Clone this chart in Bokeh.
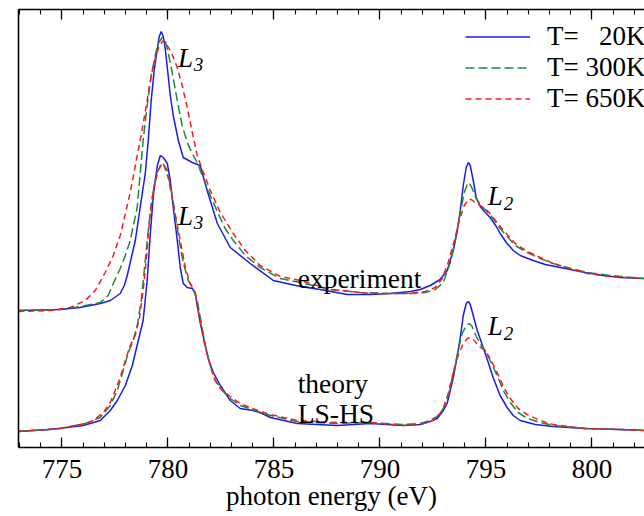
from bokeh.plotting import figure
from bokeh.models import (Range1d, LinearAxis, SingleIntervalTicker, FixedTicker, Label, Legend,
                          LegendItem, CustomJSTickFormatter)
from bokeh.embed import file_html
from bokeh.resources import INLINE

# ---------------- data (photon energy in eV, intensity in arb. units) -------------
exp_20_E = [772.94, 774.92, 775.86, 776.81, 777.28, 777.75, 777.94, 778.08, 778.22, 778.46,
            778.69, 778.93, 779.07, 779.21, 779.35, 779.50, 779.59, 779.68,
            779.78, 779.87, 780.01, 780.11, 780.25, 780.49, 780.72, 781.15, 781.52, 781.85,
            782.33, 782.94, 783.88, 784.97,
            786.24, 787.18, 788.46, 789.54, 790.49, 791.43, 791.90, 792.37, 792.84, 793.17,
            793.46, 793.65, 793.79, 793.93, 794.07, 794.17, 794.26, 794.40, 794.54, 794.73,
            794.97, 795.20, 795.49, 795.67, 795.96, 796.29, 796.62, 797.23, 797.80, 798.50,
            799.68, 800.53, 801.33, 802.47]
exp_20_I = [1.37, 1.38, 1.40, 1.44, 1.47, 1.54, 1.62, 1.72, 1.85, 2.07,
            2.40, 2.74, 3.07, 3.47, 3.77, 3.99, 4.11, 4.16,
            4.11, 3.99, 3.72, 3.52, 3.32, 3.07, 2.90, 2.85, 2.82, 2.57,
            2.24, 2.00, 1.84, 1.67,
            1.61, 1.58, 1.53, 1.53, 1.54, 1.56, 1.58, 1.62, 1.68, 1.77,
            1.97, 2.17, 2.37, 2.62, 2.80, 2.85, 2.82, 2.67, 2.50, 2.41,
            2.35, 2.30, 2.21, 2.14, 2.05, 1.97, 1.92, 1.87, 1.83, 1.80,
            1.75, 1.72, 1.70, 1.69]

exp_300_E = [772.94, 774.92, 775.86, 776.81, 777.18, 777.42, 777.75, 777.99, 778.22, 778.55,
             778.83, 779.02, 779.21, 779.40, 779.54, 779.73,
             779.87, 780.01, 780.20, 780.44, 780.67, 780.91, 781.15, 781.38, 781.67, 782.00,
             782.37, 782.70, 783.08, 783.65, 784.35, 785.30, 786.24, 787.66, 789.07, 790.49,
             791.43, 792.14, 792.61, 792.99, 793.32, 793.55, 793.79, 793.98, 794.12, 794.21,
             794.35, 794.54, 794.73, 795.01, 795.34, 795.67, 796.00, 796.38, 796.95, 797.56,
             798.17, 798.98, 799.78, 800.86, 802.47]
exp_300_I = [1.37, 1.38, 1.41, 1.45, 1.52, 1.64, 1.79, 1.92, 2.07, 2.40,
             3.07, 3.42, 3.72, 3.92, 4.04, 4.10,
             4.07, 3.95, 3.75, 3.47, 3.22, 3.05, 2.94, 2.85, 2.69, 2.52,
             2.34, 2.19, 2.07, 1.92, 1.80, 1.69, 1.65, 1.58, 1.55, 1.54,
             1.54, 1.55, 1.58, 1.65, 1.85, 2.07, 2.35, 2.55, 2.63, 2.65,
             2.59, 2.49, 2.43, 2.37, 2.29, 2.19, 2.11, 2.02, 1.95, 1.89,
             1.84, 1.79, 1.75, 1.72, 1.69]

exp_650_E = [772.94, 774.45, 775.39, 776.10, 776.57, 777.04, 777.42, 777.75, 778.08, 778.22,
             778.46, 778.69, 778.98, 779.21,
             779.40, 779.59, 779.78, 779.97, 780.16, 780.44, 780.67, 780.91, 781.15, 781.38,
             781.67, 782.00, 782.47, 783.08, 783.65, 784.35, 785.30, 786.24, 787.66, 789.54,
             791.19, 792.14, 792.61, 792.94, 793.22, 793.51, 793.74, 793.98, 794.17, 794.31,
             794.50, 794.73, 795.06, 795.34, 795.67, 796.00, 796.38, 796.95, 797.56, 798.17,
             798.98, 799.78, 800.86, 802.47]
exp_650_I = [1.36, 1.37, 1.40, 1.47, 1.57, 1.75, 1.92, 2.12, 2.42, 2.55,
             2.82, 3.07, 3.42, 3.72,
             3.89, 4.02, 4.07, 4.02, 3.95, 3.80, 3.62, 3.40, 3.15, 2.92,
             2.75, 2.57, 2.35, 2.14, 1.97, 1.82, 1.71, 1.67, 1.58, 1.54,
             1.54, 1.56, 1.60, 1.69, 1.85, 2.07, 2.27, 2.42, 2.48, 2.48,
             2.45, 2.42, 2.37, 2.30, 2.21, 2.13, 2.04, 1.96, 1.90, 1.84,
             1.79, 1.74, 1.71, 1.69]

th_20_E = [772.94, 774.45, 776.00, 776.81, 777.28, 777.61, 777.99, 778.32, 778.60, 778.83,
           779.02, 779.17, 779.31, 779.40, 779.50, 779.64,
           779.78, 779.97, 780.11, 780.25, 780.44, 780.58, 780.72, 780.91, 781.15, 781.29,
           781.38, 781.52,
           781.71, 781.90, 782.14, 782.47, 782.94, 783.41, 784.02, 784.45, 784.83, 786.10,
           787.99, 789.54, 791.10, 791.90, 792.37, 792.70, 792.99, 793.17, 793.46, 793.65,
           793.79, 793.93, 794.07, 794.17, 794.26, 794.40, 794.59, 794.87, 795.11, 795.34,
           795.67, 796.00, 796.29, 796.62, 797.33, 798.17, 799.68, 801.33, 802.47]
th_20_I = [0.16, 0.18, 0.22, 0.27, 0.37, 0.47, 0.62, 0.82, 1.07, 1.27,
           1.67, 2.14, 2.52, 2.67, 2.82, 2.92,
           2.90, 2.84, 2.67, 2.40, 2.07, 1.80, 1.64, 1.60, 1.59, 1.54,
           1.42, 1.25,
           1.07, 0.89, 0.75, 0.62, 0.47, 0.39, 0.37, 0.34, 0.30, 0.24,
           0.22, 0.24, 0.22, 0.23, 0.26, 0.29, 0.37, 0.44, 0.70, 0.92,
           1.10, 1.32, 1.44, 1.46, 1.43, 1.32, 1.17, 1.00, 0.85, 0.70,
           0.52, 0.40, 0.32, 0.27, 0.23, 0.21, 0.19, 0.18, 0.17]

th_300_E = [772.94, 774.92, 776.10, 776.81, 777.28, 777.61, 777.89, 778.13, 778.36, 778.55,
            778.74, 778.93, 779.12, 779.31, 779.50, 779.64, 779.73,
            779.97, 780.20, 780.49, 780.72, 780.96, 781.19, 781.38, 781.57,
            781.76, 782.00, 782.23, 782.56, 782.94, 783.41, 784.12, 784.83, 786.10, 787.99,
            789.54, 791.10, 791.90, 792.37, 792.70, 792.99, 793.22, 793.46, 793.69, 793.88,
            794.07, 794.21, 794.35, 794.54, 794.78, 794.97, 795.20, 795.53, 795.82, 796.15,
            796.52, 796.95, 797.56, 798.17, 799.68, 801.33, 802.47]
th_300_I = [0.16, 0.19, 0.24, 0.30, 0.42, 0.57, 0.77, 0.95, 1.07, 1.22,
            1.47, 1.87, 2.27, 2.57, 2.75, 2.82, 2.85,
            2.77, 2.52, 2.12, 1.85, 1.67, 1.59, 1.47, 1.25,
            1.02, 0.82, 0.67, 0.57, 0.49, 0.42, 0.37, 0.32, 0.26, 0.24,
            0.25, 0.23, 0.24, 0.27, 0.31, 0.39, 0.52, 0.74, 0.97, 1.14,
            1.22, 1.24, 1.21, 1.11, 1.02, 0.97, 0.87, 0.72, 0.57, 0.45,
            0.35, 0.29, 0.25, 0.22, 0.19, 0.18, 0.17]

th_650_E = [772.94, 774.92, 776.10, 776.48, 776.95, 777.28, 777.51, 777.75, 777.99, 778.22,
            778.46, 778.65, 778.83, 779.02, 779.17, 779.35, 779.54, 779.68, 779.78,
            780.01, 780.25, 780.58, 780.82, 781.05, 781.29, 781.43, 781.52,
            781.71, 781.95, 782.18, 782.47, 782.94, 783.41, 784.12, 784.83, 786.10, 787.99,
            789.54, 791.10, 791.90, 792.37, 792.70, 792.99, 793.22, 793.46, 793.69, 793.93,
            794.12, 794.26, 794.45, 794.68, 794.97, 795.25, 795.53, 795.82, 796.15, 796.52,
            796.95, 797.56, 798.17, 799.68, 801.33, 802.47]
th_650_I = [0.16, 0.19, 0.24, 0.27, 0.35, 0.45, 0.57, 0.70, 0.87, 1.02,
            1.12, 1.29, 1.57, 1.97, 2.37, 2.62, 2.77, 2.82, 2.84,
            2.70, 2.44, 2.07, 1.80, 1.64, 1.55, 1.37, 1.27,
            1.05, 0.85, 0.69, 0.59, 0.51, 0.44, 0.38, 0.33, 0.27, 0.25,
            0.25, 0.22, 0.23, 0.26, 0.30, 0.39, 0.54, 0.75, 0.92, 1.04,
            1.09, 1.10, 1.07, 1.01, 0.97, 0.87, 0.75, 0.61, 0.49, 0.39,
            0.33, 0.27, 0.23, 0.19, 0.18, 0.17]

legend_labels = ["T= \u200220K", "T= 300K", "T= 650K"]
x_title = "photon energy (eV)"
x_ticks_major = 5

FONT = "Liberation Serif"
BLUE = "#1a1aee"
GREEN = "#1b8a3a"
RED = "#ff1a1a"

p = figure(width=644, height=516, output_backend="svg", toolbar_location=None,
           x_range=Range1d(772.95, 802.48), y_range=Range1d(0, 4.38),
           min_border_left=18, min_border_right=0, min_border_top=9, min_border_bottom=69,
           x_axis_location=None, y_axis_location=None)
p.outline_line_color = None
p.grid.grid_line_color = None
p.background_fill_color = "white"
p.border_fill_color = "white"

# bottom axis
xb = LinearAxis(ticker=SingleIntervalTicker(interval=x_ticks_major, num_minor_ticks=5))
xb.axis_line_width = 1.6
xb.major_tick_in = 10
xb.major_tick_out = 0
xb.minor_tick_in = 5
xb.minor_tick_out = 0
xb.major_tick_line_width = 1.3
xb.minor_tick_line_width = 1.1
xb.major_label_text_font = FONT
xb.major_label_text_font_size = "27px"
xb.major_label_text_color = "black"
xb.major_label_standoff = 12
xb.axis_label = x_title
xb.axis_label_text_font = FONT
xb.axis_label_text_font_size = "27px"
xb.axis_label_text_font_style = "normal"
xb.axis_label_text_color = "black"
xb.axis_label_standoff = 0
p.add_layout(xb, "below")

# top axis (ticks only)
xt = LinearAxis(ticker=SingleIntervalTicker(interval=x_ticks_major, num_minor_ticks=5),
                formatter=CustomJSTickFormatter(code="return ''"))
xt.axis_line_width = 1.6
xt.major_tick_in = 10
xt.major_tick_out = 0
xt.minor_tick_in = 5
xt.minor_tick_out = 0
xt.major_tick_line_width = 1.3
xt.minor_tick_line_width = 1.1
xt.major_label_text_font_size = "0px"
xt.major_label_standoff = 0
p.add_layout(xt, "above")

# left axis (line only)
yl = LinearAxis(ticker=FixedTicker(ticks=[]))
yl.axis_line_width = 1.6
yl.major_tick_line_color = None
yl.minor_tick_line_color = None
yl.major_label_text_font_size = "0px"
yl.major_label_standoff = 0
p.add_layout(yl, "left")

# curves
styles = [dict(line_color=BLUE, line_width=1.5),
          dict(line_color=GREEN, line_width=1.5, line_dash="9 4"),
          dict(line_color=RED, line_width=1.5, line_dash="6 4")]
exp_sets = [(exp_20_E, exp_20_I), (exp_300_E, exp_300_I), (exp_650_E, exp_650_I)]
th_sets = [(th_20_E, th_20_I), (th_300_E, th_300_I), (th_650_E, th_650_I)]
exp_r = []
for (e, i), st in zip(th_sets, styles):
    p.line(e, i, **st)
for (e, i), st in zip(exp_sets, styles):
    exp_r.append(p.line(e, i, **st))

legend = Legend(items=[LegendItem(label=lab, renderers=[r]) for lab, r in zip(legend_labels, exp_r)],
                location=(447, 333), border_line_color=None, background_fill_alpha=0,
                glyph_width=65, glyph_height=31, label_height=31, label_standoff=17,
                spacing=0, padding=0, margin=0,
                label_text_font=FONT, label_text_font_size="27px", label_text_color="black")
p.add_layout(legend)

# text annotations
def lab(x, y, t, size="27.5px", italic=False, **kw):
    p.add_layout(Label(x=x, y=y, text=t, text_font=FONT, text_font_size=size,
                       text_font_style="italic" if italic else "normal",
                       text_color="black", text_baseline="alphabetic", **kw))

lab(786.12, 1.69, "experiment")
lab(786.12, 0.64, "theory")
lab(786.12, 0.34, "LS-HS")
for (xL, yL) in [(780.47, 3.90), (780.47, 2.32)]:
    lab(xL, yL, "L", size="27px", italic=True)
    lab(xL + 0.75, yL - 0.07, "3", size="19px", italic=True)
for (xL, yL) in [(795.09, 2.52), (795.09, 1.22)]:
    lab(xL, yL, "L", size="27px", italic=True)
    lab(xL + 0.75, yL - 0.08, "2", size="19px", italic=True)

open("out.html", "w").write(file_html(p, INLINE))
